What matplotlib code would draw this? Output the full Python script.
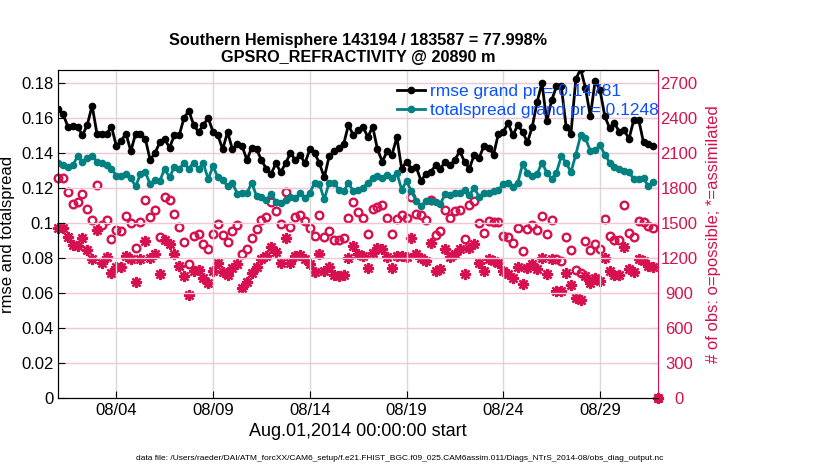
import numpy as np
import pandas as pd
import matplotlib
matplotlib.use("Agg")
import matplotlib.pyplot as plt
import matplotlib.dates as mdates

plt.rcParams['font.family'] = ['Liberation Sans', 'DejaVu Sans']

# 6-hourly bins, Aug 1 2014 00Z .. Sep 1 2014 00Z
times = pd.date_range('2014-08-01 00:00', periods=125, freq='6h')

rmse = [0.165, 0.162, 0.155, 0.1555, 0.155, 0.150, 0.156, 0.167, 0.151, 0.151,
        0.151, 0.155, 0.144, 0.147, 0.151, 0.141, 0.151, 0.151, 0.148, 0.136,
        0.140, 0.146, 0.148, 0.143, 0.150, 0.150, 0.160, 0.164, 0.156, 0.152,
        0.156, 0.160,
        0.152, 0.150, 0.142, 0.152, 0.142, 0.145, 0.144, 0.136, 0.143, 0.142,
        0.136, 0.131, 0.128, 0.134, 0.129, 0.134, 0.140, 0.136, 0.139, 0.134,
        0.142, 0.140, 0.134, 0.126, 0.138, 0.141, 0.143, 0.145, 0.156, 0.150,
        0.153,
        0.155, 0.149, 0.155, 0.142, 0.135, 0.141, 0.139, 0.149, 0.131, 0.135,
        0.131, 0.132, 0.124, 0.128, 0.129, 0.133, 0.131, 0.135, 0.133, 0.136,
        0.141, 0.135, 0.131, 0.139, 0.137, 0.144, 0.143, 0.139, 0.151, 0.152,
        0.157,
        0.150, 0.156, 0.152, 0.146, 0.155, 0.169, 0.180, 0.158, 0.170, 0.178,
        0.178, 0.155, 0.151, 0.182, 0.188, 0.177, 0.161, 0.181, 0.176, 0.161,
        0.154, 0.157, 0.152, 0.153, 0.148, 0.159, 0.159, 0.146, 0.145, 0.144,
        np.nan]

spread = [0.1345, 0.133, 0.132, 0.133, 0.138, 0.135, 0.137, 0.1385, 0.135, 0.134,
          0.133, 0.131, 0.127, 0.127, 0.128, 0.1255, 0.121, 0.128, 0.129, 0.122,
          0.1245, 0.124, 0.131, 0.126, 0.132, 0.131, 0.134, 0.131, 0.1345, 0.131,
          0.134, 0.125,
          0.1325, 0.126, 0.1245, 0.121, 0.123, 0.1167, 0.117, 0.117, 0.123, 0.1153,
          0.115, 0.113, 0.1167, 0.112, 0.1115, 0.113, 0.115, 0.114, 0.117, 0.114,
          0.117, 0.123, 0.122, 0.1135, 0.123, 0.123, 0.119, 0.118, 0.123, 0.118,
          0.119,
          0.120, 0.123, 0.1255, 0.127, 0.1255, 0.1275, 0.1255, 0.1287, 0.119, 0.124,
          0.118, 0.1125, 0.1096, 0.1125, 0.1125, 0.112, 0.111, 0.1163, 0.116, 0.117,
          0.117, 0.119, 0.116, 0.120, 0.115, 0.117, 0.117, 0.118, 0.119, 0.122,
          0.123,
          0.1205, 0.123, 0.1335, 0.1288, 0.127, 0.128, 0.1345, 0.1288, 0.125, 0.1288,
          0.138, 0.1345, 0.129, 0.139, 0.150, 0.1485, 0.141, 0.1415, 0.1445, 0.139,
          0.1345, 0.132, 0.131, 0.1297, 0.129, 0.125, 0.125, 0.1255, 0.121, 0.1236,
          np.nan]

n_possible = [1881, 1881, 1769, 1666, 1680, 1746, 1623, 1522, 1823, 1479,
              1528, 1359, 1436, 1431, 1563, 1502, 1281, 1508, 1697, 1554,
              1608, 1382, 1723, 1694, 1580, 1468, 1339, 1150, 1387, 1408,
              1316, 1273,
              1408, 1494, 1396, 1339, 1430, 1482, 1230, 1273, 1373, 1445,
              1525, 1551, 1680, 1602, 1494, 1766, 1468, 1554, 1568, 1516,
              1459, 1387, 1565, 1379, 1430, 1353, 1353, 1367, 1545, 1680,
              1597,
              1539, 1408, 1617, 1640, 1654, 1545, 1408, 1531, 1565, 1539,
              1723, 1574, 1565, 1525, 1694, 1396, 1430, 1608, 1545, 1602,
              1608, 1365, 1651, 1688, 1496, 1410, 1516, 1508, 1508, 1387,
              1382,
              1330, 1453, 1258, 1445, 1479, 1439, 1559, 1408, 1522, 1187,
              1178, 1379, 1264, 1101, 1072, 1344, 1264, 1316, 1273, 1531,
              1387, 1353, 1353, 1651, 1416, 1382, 1516, 1508, 1473, 1453,
              0]

n_assim = [1459, 1459, 1382, 1310, 1301, 1367, 1264, 1187, 1436, 1158,
           1207, 1072, 1121, 1121, 1215, 1193, 995, 1193, 1344, 1201,
           1238, 1064, 1353, 1316, 1236, 1129, 1043, 886, 1086, 1095,
           1029, 986,
           1086, 1158, 1078, 1058, 1115, 1144, 943, 991, 1072, 1121,
           1193, 1215, 1296, 1253, 1158, 1373, 1158, 1215, 1221, 1187,
           1150, 1081, 1230, 1086, 1121, 1052, 1049, 1058, 1201, 1301,
           1230,
           1215, 1115, 1244, 1287, 1273, 1207, 1115, 1215, 1215, 1207,
           1367, 1230, 1201, 1178, 1330, 1086, 1109, 1273, 1207, 1238,
           1273, 1066, 1287, 1316, 1158, 1086, 1193, 1173, 1158, 1086,
           1063,
           1029, 1124, 978, 1115, 1144, 1109, 1201, 1066, 1187, 914,
           914, 1072, 972, 857, 843, 1043, 986, 1029, 1000, 1201,
           1086, 1052, 1052, 1293, 1109, 1081, 1193, 1173, 1135, 1124,
           0]

left_ticks = [0, 0.02, 0.04, 0.06, 0.08, 0.1, 0.12, 0.14, 0.16, 0.18]
right_ticks = [0, 300, 600, 900, 1200, 1500, 1800, 2100, 2400, 2700]

crimson = '#D7104F'
teal = '#008080'

fig = plt.figure(figsize=(8.3, 4.7), dpi=100)
ax = fig.add_axes([0.0702, 0.1532, 0.7226, 0.698])
ax2 = ax.twinx()

# counts on the right axis (drawn behind)
ax2.plot(times, n_possible, 'o', ls='none', mfc='none', mec=crimson, ms=5.5, mew=1.7,
         clip_on=False)
ax2.plot(times, n_assim, marker=(8, 2, 0), ls='none', color=crimson, ms=8, mew=1.7,
         clip_on=False)
ax2.set_ylim(0, 2811)
ax2.set_yticks(right_ticks)
ax2.tick_params(axis='y', colors=crimson, direction='in', labelsize=12, length=5, pad=15)
for lbl in ax2.get_yticklabels():
    lbl.set_horizontalalignment('center')
ax2.spines['right'].set_color(crimson)
ax2.set_ylabel('# of obs: o=possible; *=assimilated', color=crimson, fontsize=12,
               labelpad=6)

ax.set_zorder(ax2.get_zorder() + 1)
ax.patch.set_visible(False)
ax.spines['right'].set_visible(False)

ax.plot(times, rmse, '-o', color='black', lw=2, ms=4.5, label='rmse grand pr = 0.14781')
ax.plot(times, spread, '-o', color=teal, lw=2, ms=4.5, label='totalspread grand pr = 0.1248')

ax.set_xlim(pd.Timestamp('2014-08-01'), pd.Timestamp('2014-09-01'))
ax.set_ylim(0, 0.1874)
ax.set_yticks(left_ticks)
ax.set_yticklabels(['0', '0.02', '0.04', '0.06', '0.08', '0.1', '0.12', '0.14', '0.16', '0.18'])
ax.xaxis.set_major_locator(mdates.DayLocator(bymonthday=[4, 9, 14, 19, 24, 29]))
ax.xaxis.set_major_formatter(mdates.DateFormatter('%m/%d'))
ax.tick_params(direction='in', labelsize=12, length=5)

ax.yaxis.grid(True, color='#F2C6D5', lw=1)
ax.xaxis.grid(True, color='#D9D9D9', lw=1)

ax.set_xlabel('Aug.01,2014 00:00:00 start', fontsize=13)
ax.set_ylabel('rmse and totalspread', fontsize=12)
ax.set_title('Southern Hemisphere 143194 / 183587 = 77.998%\nGPSRO_REFRACTIVITY @ 20890 m',
             fontsize=11.7, fontweight='bold', linespacing=1.1)

leg = ax.legend(loc='upper left', bbox_to_anchor=(0.553, 0.978), frameon=False,
                fontsize=12.5, handlelength=1.6, handletextpad=0.3, labelspacing=0.2,
                borderaxespad=0)
for t in leg.get_texts():
    t.set_color('#0A50FF')

fig.text(0.482, 0.022,
         'data file: /Users/raeder/DAI/ATM_forcXX/CAM6_setup/f.e21.FHIST_BGC.f09_025.'
         'CAM6assim.011/Diags_NTrS_2014-08/obs_diag_output.nc',
         ha='center', fontsize=6)

fig.savefig('out.png', dpi=100)
